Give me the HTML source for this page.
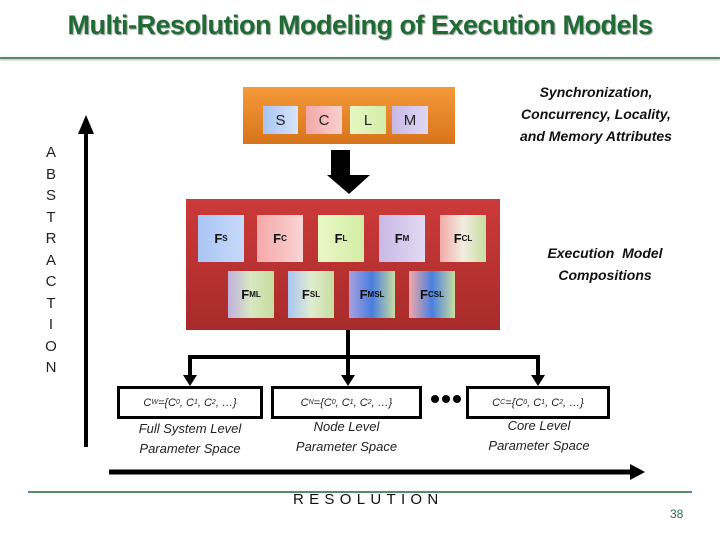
<!DOCTYPE html>
<html><head><meta charset="utf-8"><style>
body{margin:0;width:720px;height:540px;position:relative;background:#fff;font-family:"Liberation Sans",sans-serif;overflow:hidden}
.a{position:absolute}
.t{left:0;width:720px;top:10px;text-align:center;font-weight:bold;font-size:27px;color:#1f6b34;text-shadow:1px 1px 1px #9a9a9a;letter-spacing:-0.5px}
.hl{left:0;width:720px;height:2px;background:#5a8a6a;top:57px;box-shadow:0 1px 2px #aaa}
.ib{position:absolute;font-size:15px;color:#222;display:flex;align-items:center;justify-content:center}
.fb{position:absolute;width:46px;height:47px;font-size:13px;font-weight:bold;color:#111;display:flex;align-items:center;justify-content:center}
.fb sub{font-size:8px;vertical-align:-3px}
.it{position:absolute;font-style:italic;font-size:13px;color:#222;text-align:center;line-height:20px}
.bi{position:absolute;font-style:italic;font-weight:bold;font-size:14px;color:#111;text-align:center;line-height:22px}
.pb{position:absolute;border:3px solid #000;height:27px;box-sizing:content-box;font-style:italic;font-size:11px;display:flex;align-items:center;justify-content:center;color:#222}
.pb sub{font-size:7px}
</style></head><body>
<div class="a t">Multi-Resolution Modeling of Execution Models</div>
<div class="a hl"></div>

<div class="a" style="left:243px;top:87px;width:212px;height:57px;background:linear-gradient(#f59a3a,#d8741c)"></div>
<div class="ib" style="left:263px;top:106px;width:35px;height:28px;background:linear-gradient(90deg,#a9c5f4,#d8e4fa)">S</div>
<div class="ib" style="left:306px;top:106px;width:36px;height:28px;background:linear-gradient(90deg,#f4a8a8,#f9d0d0)">C</div>
<div class="ib" style="left:350px;top:106px;width:36px;height:28px;background:linear-gradient(90deg,#e6f7c4,#d4eea8)">L</div>
<div class="ib" style="left:392px;top:106px;width:36px;height:28px;background:linear-gradient(90deg,#c8b8e6,#e0d8f2)">M</div>

<svg class="a" style="left:0;top:0" width="720" height="540">
<polygon points="331,150 350,150 350,175 370,175 349,194 327,175 331,175" fill="#000"/>
<line x1="86" y1="130" x2="86" y2="447" stroke="#000" stroke-width="4"/>
<polygon points="78,134 94,134 86,115" fill="#000"/>
<line x1="348" y1="330" x2="348" y2="357" stroke="#000" stroke-width="4"/>
<polyline points="190,376 190,357 538,357 538,376" fill="none" stroke="#000" stroke-width="4"/>
<line x1="348" y1="357" x2="348" y2="376" stroke="#000" stroke-width="4"/>
<polygon points="183,375 197,375 190,386" fill="#000"/>
<polygon points="341,375 355,375 348,386" fill="#000"/>
<polygon points="531,375 545,375 538,386" fill="#000"/>
<circle cx="435" cy="399" r="4" fill="#000"/><circle cx="446" cy="399" r="4" fill="#000"/><circle cx="457" cy="399" r="4" fill="#000"/>
<line x1="109" y1="472" x2="632" y2="472" stroke="#000" stroke-width="5"/>
<polygon points="630,464 645,472 630,480" fill="#000"/>
<line x1="28" y1="492" x2="692" y2="492" stroke="#5a8a6a" stroke-width="2"/>
</svg>

<div class="a" style="left:186px;top:199px;width:314px;height:131px;background:linear-gradient(#cc3a3a,#a82a2a)"></div>
<div class="fb" style="left:198px;top:215px;background:linear-gradient(90deg,#a9c5f4,#c8dafa)">F<sub>S</sub></div>
<div class="fb" style="left:257px;top:215px;background:linear-gradient(90deg,#f4a8a8,#fad4d4)">F<sub>C</sub></div>
<div class="fb" style="left:318px;top:215px;background:linear-gradient(90deg,#eaf8c8,#d2eca4)">F<sub>L</sub></div>
<div class="fb" style="left:379px;top:215px;background:linear-gradient(90deg,#c8b8e6,#e2daf2)">F<sub>M</sub></div>
<div class="fb" style="left:440px;top:215px;background:linear-gradient(90deg,#f4a8a8,#f2eee0,#c8dca0)">F<sub>CL</sub></div>
<div class="fb" style="left:228px;top:271px;background:linear-gradient(90deg,#c0b0e0,#d8e8c0,#c8dca0)">F<sub>ML</sub></div>
<div class="fb" style="left:288px;top:271px;background:linear-gradient(90deg,#a9c5f4,#e0ecd0,#c8dca0)">F<sub>SL</sub></div>
<div class="fb" style="left:349px;top:271px;background:linear-gradient(90deg,#a8a0e0,#4a7ee0,#c8dca0)">F<sub>MSL</sub></div>
<div class="fb" style="left:409px;top:271px;background:linear-gradient(90deg,#f4a8a8,#4a80e0,#c8dca0)">F<sub>CSL</sub></div>

<div class="bi" style="left:500px;top:81px;width:192px">Synchronization,<br>Concurrency, Locality,<br>and Memory Attributes</div>
<div class="bi" style="left:520px;top:242px;width:170px">Execution&nbsp; Model<br>Compositions</div>

<div class="a" style="left:43px;top:142px;width:16px;text-align:center;font-size:15px;line-height:21.5px;color:#222">A<br>B<br>S<br>T<br>R<br>A<br>C<br>T<br>I<br>O<br>N</div>

<div class="pb" style="left:117px;top:386px;width:140px">C<sub>W</sub>={C<sub>0</sub>, C<sub>1</sub>, C<sub>2</sub>, …}</div>
<div class="pb" style="left:271px;top:386px;width:145px">C<sub>N</sub>={C<sub>0</sub>, C<sub>1</sub>, C<sub>2</sub>, …}</div>
<div class="pb" style="left:466px;top:386px;width:138px">C<sub>C</sub>={C<sub>0</sub>, C<sub>1</sub>, C<sub>2</sub>, …}</div>

<div class="it" style="left:117px;top:419px;width:146px">Full System Level<br>Parameter Space</div>
<div class="it" style="left:271px;top:417px;width:151px">Node Level<br>Parameter Space</div>
<div class="it" style="left:466px;top:416px;width:146px">Core Level<br>Parameter Space</div>

<div class="a" style="left:293px;top:491px;font-size:15px;letter-spacing:5.3px;color:#111">RESOLUTION</div>
<div class="a" style="left:670px;top:507px;font-size:12px;color:#2f6a60">38</div>
</body></html>
